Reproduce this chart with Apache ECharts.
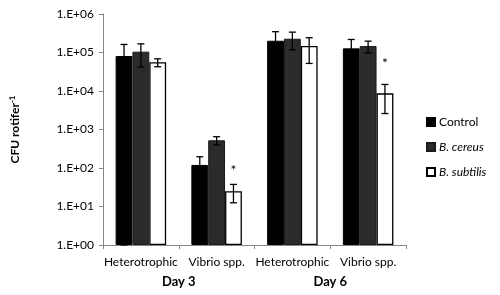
<!DOCTYPE html>
<html>
<head>
<meta charset="utf-8">
<script src="https://cdn.jsdelivr.net/npm/echarts@6/dist/echarts.min.js"></script>
<style>
  html, body { margin: 0; padding: 0; background: #fff; }
  #chart { width: 500px; height: 295px; }
</style>
</head>
<body>
<div id="chart"></div>
<script>
// categories
const groups = ['Heterotrophic', 'Vibrio spp.', 'Heterotrophic', 'Vibrio spp.'];
const days = ['Day 3', 'Day 6'];
const seriesNames = ['Control', 'B. cereus', 'B. subtilis'];

// CFU per rotifer (means)
const control = [81000, 120, 202000, 128000];
const cereus = [105000, 525, 228000, 147000];
const subtilis = [55600, 25, 147000, 8700];

// error bar half-widths (sd)
const controlErr = [81000, 76, 145000, 90000];
const cereusErr = [63000, 125, 110000, 50000];
const subtilisErr = [13000, 12.5, 95000, 6100];

// where the significance stars sit (value on the y axis), null = none
const starAt = [null, 85, null, 52000];

const colors = ['#000000', '#2b2b2b', '#ffffff'];
const font = 'Lato, "Liberation Sans", sans-serif';

const chart = echarts.init(document.getElementById('chart'));

const gapRatio = 1 / 3;

function errorSeries(means, errs, slot) {
  return {
    type: 'custom',
    xAxisIndex: 0,
    z: 10,
    silent: true,
    data: means.map((m, i) => [i, m, errs[i]]),
    renderItem: function (params, api) {
      const idx = api.value(0);
      const mean = api.value(1);
      const sd = api.value(2);
      const band = api.size([1, 0])[0];
      const barW = band * (1 - gapRatio) / 3;
      const cx = api.coord([idx, mean])[0] + (slot - 1) * barW;
      const hi = api.coord([idx, mean + sd])[1];
      const lo = api.coord([idx, Math.max(mean - sd, 1)])[1];
      const cap = 3.5;
      const style = { stroke: '#000', lineWidth: 1.3 };
      return {
        type: 'group',
        children: [
          { type: 'line', shape: { x1: cx, y1: hi, x2: cx, y2: lo }, style: style },
          { type: 'line', shape: { x1: cx - cap, y1: hi, x2: cx + cap, y2: hi }, style: style },
          { type: 'line', shape: { x1: cx - cap, y1: lo, x2: cx + cap, y2: lo }, style: style }
        ]
      };
    }
  };
}

const starSeries = {
  type: 'custom',
  xAxisIndex: 0,
  z: 10,
  silent: true,
  data: starAt.map((v, i) => [i, v]).filter(d => d[1] != null),
  renderItem: function (params, api) {
    const band = api.size([1, 0])[0];
    const barW = band * (1 - gapRatio) / 3;
    const p = api.coord([api.value(0), api.value(1)]);
    return {
      type: 'text',
      style: {
        x: p[0] + barW, y: p[1], text: '*',
        fontSize: 14, fontFamily: font, fill: '#000',
        align: 'center', verticalAlign: 'middle'
      }
    };
  }
};

chart.setOption({
  animation: false,
  textStyle: { fontFamily: font },
  grid: { left: 94, right: 94, top: 14, bottom: 50 },
  legend: {
    orient: 'vertical',
    left: 421,
    top: 110,
    itemWidth: 8,
    itemHeight: 8,
    itemGap: 11,
    icon: 'rect',
    data: seriesNames,
    textStyle: {
      fontSize: 12, color: '#000', lineHeight: 14, padding: [0, 0, 0, -1],
      rich: { i: { fontSize: 12, fontStyle: 'italic', color: '#000' } }
    },
    formatter: name => name === 'Control' ? name : '{i|' + name + '}'
  },
  xAxis: [{
    type: 'category',
    data: groups,
    axisLine: { lineStyle: { color: '#868686', width: 1 } },
    axisTick: { show: true, length: 4, interval: 0, lineStyle: { color: '#868686' } },
    axisLabel: { color: '#000', fontSize: 12, margin: 11, interval: 0 }
  }, {
    type: 'category',
    data: days,
    position: 'bottom',
    offset: 19,
    axisLine: { show: false },
    axisTick: { show: false },
    axisLabel: { color: '#000', fontSize: 13, fontWeight: 'bold', margin: 11, interval: 0 }
  }],
  yAxis: {
    type: 'log',
    logBase: 10,
    min: 1,
    max: 1000000,
    splitLine: { show: false },
    axisLine: { show: true, lineStyle: { color: '#868686' } },
    axisTick: { show: true, length: 4, lineStyle: { color: '#868686' } },
    axisLabel: {
      color: '#000', fontSize: 12, margin: 9,
      formatter: v => '1.E+' + String(Math.round(Math.log10(v))).padStart(2, '0')
    },
    name: 'CFU rotifer{sup|-1}',
    nameLocation: 'middle',
    nameRotate: 90,
    nameGap: 81,
    nameTextStyle: {
      fontSize: 12, fontWeight: 'bold', color: '#000',
      rich: { sup: { fontSize: 8, fontWeight: 'bold', color: '#000', verticalAlign: 'top', padding: [0, 0, 6, 0] } }
    }
  },
  series: [
    { name: seriesNames[0], type: 'bar', data: control, barGap: 0, barCategoryGap: '33.3%',
      itemStyle: { color: colors[0], borderColor: '#000', borderWidth: 1 } },
    { name: seriesNames[1], type: 'bar', data: cereus, barGap: 0, barCategoryGap: '33.3%',
      itemStyle: { color: colors[1], borderColor: '#1a1a1a', borderWidth: 1 } },
    { name: seriesNames[2], type: 'bar', data: subtilis, barGap: 0, barCategoryGap: '33.3%',
      itemStyle: { color: colors[2], borderColor: '#000', borderWidth: 1.3 } },
    errorSeries(control, controlErr, 0),
    errorSeries(cereus, cereusErr, 1),
    errorSeries(subtilis, subtilisErr, 2),
    starSeries
  ]
});
</script>
</body>
</html>
